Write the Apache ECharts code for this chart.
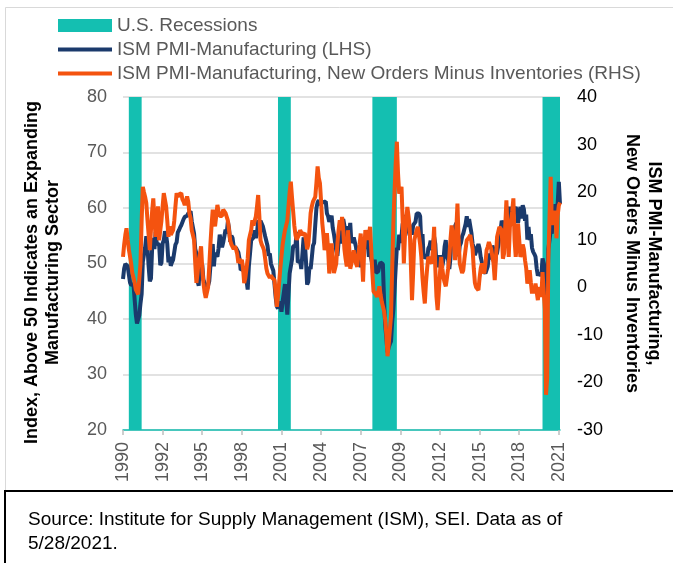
<!DOCTYPE html>
<html>
<head>
<meta charset="utf-8">
<script src="https://cdn.jsdelivr.net/npm/echarts@6/dist/echarts.min.js"></script>
<style>
  html, body { margin: 0; padding: 0; background: #fff; }
  #chart { width: 673px; height: 563px; }
</style>
</head>
<body>
<div id="chart"></div>
<script>
// monthly, Jan 1990 .. Apr 2021
var startYear = 1990;
var monthCount = 376;

// ISM PMI-Manufacturing (LHS), one row per year
var pmi = [
  47.2, 49.1, 49.9, 50.0, 49.5, 49.2, 46.6, 46.1, 46.2, 46.3, 43.5, 40.8,
  39.2, 39.4, 40.7, 42.8, 44.5, 50.3, 50.6, 52.9, 54.9, 53.1, 49.5, 46.8,
  47.3, 52.7, 54.6, 52.6, 55.7, 53.6, 53.9, 53.4, 49.7, 50.1, 53.6, 54.2,
  55.8, 55.2, 53.5, 50.2, 51.2, 49.6, 50.2, 50.7, 50.8, 53.4, 53.8, 55.6,
  56.0, 56.5, 56.9, 56.7, 58.0, 58.4, 58.5, 58.6, 59.0, 58.8, 59.4, 57.6,
  57.3, 55.4, 52.6, 51.8, 46.8, 46.0, 50.6, 47.6, 49.8, 47.1, 46.5, 46.7,
  45.5, 46.0, 46.8, 49.5, 49.3, 53.5, 49.5, 51.9, 51.9, 51.2, 52.7, 55.2,
  53.8, 52.9, 53.8, 53.7, 56.1, 55.4, 57.6, 56.3, 53.9, 55.0, 54.6, 53.0,
  52.7, 52.8, 52.4, 52.0, 50.8, 48.8, 48.8, 49.1, 48.6, 48.2, 47.0, 45.3,
  49.5, 51.8, 54.2, 54.0, 54.7, 56.0, 54.6, 55.5, 57.8, 57.2, 57.7, 57.5,
  56.7, 55.8, 54.9, 54.7, 53.2, 51.4, 51.8, 49.9, 49.7, 48.7, 48.5, 43.9,
  42.3, 41.9, 43.1, 42.7, 41.3, 43.2, 43.5, 46.3, 46.2, 40.8, 44.5, 48.2,
  48.2, 50.7, 53.1, 53.0, 53.2, 55.7, 50.2, 50.3, 50.5, 49.0, 49.2, 54.7,
  53.9, 50.5, 46.2, 46.7, 49.4, 49.0, 51.0, 53.2, 53.7, 57.0, 60.0, 61.0,
  61.4, 60.5, 61.2, 61.5, 61.0, 60.8, 61.2, 59.0, 58.5, 57.5, 57.8, 58.6,
  56.4, 55.3, 55.2, 52.3, 51.4, 53.8, 56.6, 53.6, 57.5, 58.0, 58.1, 55.6,
  54.8, 56.7, 55.2, 57.3, 53.7, 53.8, 54.7, 54.5, 52.9, 51.2, 49.5, 51.4,
  49.3, 52.3, 50.9, 54.7, 52.6, 56.0, 53.8, 51.2, 52.0, 50.9, 50.8, 48.4,
  50.7, 48.3, 48.6, 48.6, 49.6, 50.2, 50.0, 49.9, 43.5, 38.9, 36.5, 34.0,
  34.9, 35.5, 36.0, 39.5, 41.7, 45.3, 49.2, 52.8, 52.4, 55.2, 53.7, 54.9,
  57.2, 56.0, 58.5, 58.8, 58.5, 56.0, 55.1, 56.3, 55.2, 56.9, 56.6, 57.5,
  59.0, 59.3, 59.0, 58.5, 53.5, 55.3, 50.9, 50.6, 51.6, 50.8, 52.7, 53.1,
  54.1, 52.4, 53.4, 54.8, 53.5, 49.7, 49.8, 49.6, 51.5, 51.7, 49.5, 50.7,
  53.1, 54.2, 51.3, 50.7, 49.0, 50.9, 55.4, 55.7, 56.2, 56.4, 57.3, 57.0,
  51.3, 53.2, 53.7, 54.9, 55.4, 55.3, 57.1, 58.5, 56.6, 58.0, 57.8, 55.5,
  53.5, 52.9, 51.5, 51.5, 52.8, 53.5, 52.7, 51.1, 50.2, 50.1, 48.6, 48.2,
  48.2, 49.5, 51.8, 50.8, 51.3, 53.2, 52.6, 49.4, 51.5, 51.9, 53.2, 54.7,
  56.0, 57.7, 57.2, 54.8, 54.9, 57.8, 56.3, 58.8, 60.2, 58.7, 58.2, 59.3,
  59.1, 60.2, 59.3, 57.3, 58.7, 60.2, 58.1, 60.5, 59.8, 57.7, 58.8, 54.3,
  56.6, 54.2, 55.3, 52.8, 52.1, 51.7, 51.2, 49.1, 47.8, 48.3, 48.1, 47.8,
  50.9, 50.1, 49.1, 41.5, 43.1, 52.6, 54.2, 56.0, 55.4, 59.3, 57.5, 60.7,
  58.7, 60.8, 64.7, 60.7
];

// New Orders minus Inventories (RHS)
var noMinusInv = [
  6.4, 9, 11, 12.4, 10, 8, 7.8, 5, 3, 2.9, 1, -0.5,
  -0.9, -1.5, -1.2, 5, 14, 21.1, 20, 19, 17.7, 14.1, 11, 7.8,
  12, 16, 18.7, 14, 10.6, 13, 17, 9.9, 12, 14, 17, 19.8,
  19.8, 17, 14, 10.6, 12.8, 11, 10.6, 12, 14, 17, 19.8, 19,
  19.5, 19.8, 19.8, 18.5, 18, 17.3, 18, 19.1, 18, 15.5, 14.5, 12,
  11, 9.9, 5, 0.9, 3, 5.8, 7, 8.6, 4, 0.9, -1, -2.2,
  -2.2, 0, 4.4, 9, 13, 16.3, 14, 12.8, 15, 17.3, 16, 15,
  14.9, 15, 16.3, 16, 15.6, 15.6, 14, 12, 9.9, 9, 8.6, 8,
  8.6, 8, 7, 5.1, 6, 5, 5.8, 4, 0.9, 2, 4, 6,
  9.9, 11, 12, 14.1, 13, 14, 14.9, 17, 19.4, 15, 9.9, 9,
  8.5, 7.8, 6, 4, 2.9, 3, 2, 2.5, 2, 2, 1.5, -1,
  -4.1, -2, 1, 4, 6.5, 9, 10.6, 12, 13, 14, 17, 20,
  22.2, 19, 16, 13, 11, 10, 9.9, 11, 12, 12, 11, 11.4,
  11.4, 10, 8, 9, 12, 15.6, 17, 18, 18.4, 19, 22, 25.4,
  23, 21.9, 18, 13.5, 11, 7.8, 9, 11.4, 8, 2.9, 6, 9.2,
  6, 3, 2.9, 5, 9.2, 12, 14.1, 12, 14.8, 12, 8, 6,
  4.4, 12, 9, 3.9, 5, 6, 7.8, 6, 5, 4.3, 7, 9,
  11.3, 6, 1.2, 8, 12.0, 11, 10, 11, 12.7, 8, 3, -0.9,
  -1, -1.5, -2.0, -1, 0.2, -1.5, -3, -4, -5, -6.8, -10, -14.5,
  -12, -9, -6.1, 4, 13.4, 20, 26, 30.6, 24, 19.7, 20, 21.1,
  14, 5.0, 11, 14, 16.9, 15, 12.7, 5, -2.7, 3, 9.9, 11,
  12, 12.7, 12.7, 9, 6.4, 2, -1, -3.4, 1, 4, 6.4, 6,
  5.5, 5.0, 8, 12.7, 4, -2, -4.8, -1, 3, 6.4, 4, 2,
  1, 0.2, 2, 4, 6.4, 10, 13, 13.4, 9, 5.7, 12, 17.6,
  10, 5.0, 4, 3, 3.6, 6, 8, 9.9, 10, 10.5, 11, 11.3,
  8, 4, 0.9, 0, -0.3, -0.6, 2, 4, 5.0, 4, 2.9, 5,
  7.8, 8.5, 9.5, 9.9, 8, 6.4, 5, 1.5, 6, 10.6, 11, 12.7,
  12.7, 12, 6.0, 7.1, 12.7, 18.3, 12, 6.4, 12.7, 14, 16, 18.7,
  10, 6.4, 9, 13.4, 10, 6.4, 7.1, 9, 8, 5.7, 4, 0.8,
  2, 3.6, 1, -1.3, 0, -1.3, 0.8, -1, -2.7, 0, -0.6, -2.0,
  3.2, 3.3, -4.7, -22.6, -19, 5.9, 14.5, 23.2, 13.1, 16.0, 13.9, 16.1,
  10.3, 15.1, 17.2, 17.8
];

// shaded recession periods (first and last month as drawn)
var recessions = [
  ['1990-06', '1991-05'],
  ['2001-02', '2002-01'],
  ['2007-11', '2009-08'],
  ['2020-01', '2021-04']
];

var months = [];
for (var i = 0; i < monthCount; i++) {
  var y = startYear + Math.floor(i / 12);
  var m = i % 12 + 1;
  months.push(y + '-' + (m < 10 ? '0' + m : m));
}

var teal = '#14BFB1';
var navy = '#1B3A6C';
var orange = '#F4530F';
var font = '"Liberation Sans", Arial, sans-serif';
var lineIcon = 'path://M0,0L54,0L54,4L0,4Z';

var myChart = echarts.init(document.getElementById('chart'));
var option = {
  backgroundColor: '#fff',
  animation: false,
  textStyle: { fontFamily: font },
  legend: {
    orient: 'vertical',
    left: 58,
    top: 16,
    padding: 0,
    itemWidth: 54,
    itemHeight: 13,
    itemGap: 5,
    selectedMode: false,
    textStyle: { fontSize: 19, color: '#595959', fontFamily: font },
    data: [
      { name: 'U.S. Recessions', icon: 'rect' },
      { name: 'ISM PMI-Manufacturing (LHS)', icon: lineIcon },
      { name: 'ISM PMI-Manufacturing, New Orders Minus Inventories (RHS)', icon: lineIcon }
    ]
  },
  grid: { left: 123, right: 109, top: 97, bottom: 133 },
  xAxis: {
    type: 'category',
    data: months,
    boundaryGap: false,
    axisLine: { onZero: false, lineStyle: { color: teal, width: 1.5 } },
    axisTick: { show: true, interval: 33, length: 5, lineStyle: { color: '#bfbfbf', width: 1.5 } },
    axisLabel: {
      interval: 33,
      rotate: 90,
      margin: 12,
      fontSize: 18,
      color: '#595959',
      fontFamily: font,
      formatter: function (v) { return v.slice(0, 4); }
    },
    splitLine: { show: false }
  },
  yAxis: [
    {
      type: 'value',
      min: 20,
      max: 80,
      interval: 10,
      name: 'Index, Above 50 Indicates an Expanding\nManufacturing Sector',
      nameLocation: 'middle',
      nameRotate: 90,
      nameGap: 59,
      nameTextStyle: { fontSize: 18, fontWeight: 'bold', color: '#000', lineHeight: 21, fontFamily: font, padding: [0, 18, 0, 0] },
      axisLine: { show: false },
      axisTick: { show: false },
      axisLabel: { fontSize: 18, color: '#595959', margin: 16, fontFamily: font },
      splitLine: { lineStyle: { color: '#d9d9d9', width: 1.5 } }
    },
    {
      type: 'value',
      min: -30,
      max: 40,
      interval: 10,
      position: 'right',
      name: 'ISM PMI-Manufacturing,\nNew Orders Minus Inventories',
      nameLocation: 'middle',
      nameRotate: -90,
      nameGap: 61,
      nameTextStyle: { fontSize: 18, fontWeight: 'bold', color: '#000', lineHeight: 22, fontFamily: font },
      axisLine: { show: false },
      axisTick: { show: false },
      axisLabel: { fontSize: 18, color: '#000', margin: 17, fontFamily: font },
      splitLine: { show: false }
    }
  ],
  series: [
    {
      name: 'U.S. Recessions',
      type: 'bar',
      data: [],
      itemStyle: { color: teal }
    },
    {
      name: 'ISM PMI-Manufacturing (LHS)',
      type: 'line',
      yAxisIndex: 0,
      data: pmi,
      symbol: 'none',
      z: 3,
      color: navy,
      lineStyle: { color: navy, width: 4 },
      markArea: {
        silent: true,
        itemStyle: { color: teal, opacity: 1 },
        data: recessions.map(function (r) {
          return [{ xAxis: months.indexOf(r[0]) }, { xAxis: months.indexOf(r[1]) }];
        })
      }
    },
    {
      name: 'ISM PMI-Manufacturing, New Orders Minus Inventories (RHS)',
      type: 'line',
      yAxisIndex: 1,
      data: noMinusInv,
      symbol: 'none',
      z: 4,
      color: orange,
      lineStyle: { color: orange, width: 4 }
    }
  ],
  graphic: [
    {
      type: 'rect',
      silent: true,
      shape: { x: 5.5, y: 7.5, width: 700, height: 483 },
      style: { fill: 'none', stroke: '#d9d9d9', lineWidth: 1 }
    },
    {
      type: 'rect',
      silent: true,
      shape: { x: 5, y: 491, width: 700, height: 100 },
      style: { fill: 'none', stroke: '#000', lineWidth: 2 }
    },
    {
      type: 'text',
      silent: true,
      x: 28,
      y: 508,
      style: {
        text: 'Source: Institute for Supply Management (ISM), SEI. Data as of\n5/28/2021.',
        fontSize: 19,
        fontFamily: font,
        lineHeight: 24,
        fill: '#000'
      }
    }
  ]
};
myChart.setOption(option);
</script>
</body>
</html>
